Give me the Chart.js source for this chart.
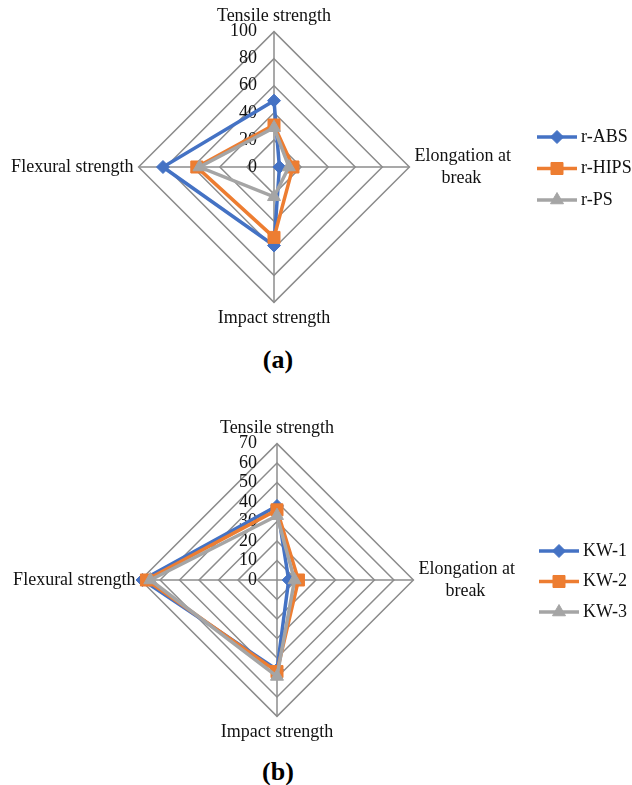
<!DOCTYPE html>
<html>
<head>
<meta charset="utf-8">
<script src="https://cdn.jsdelivr.net/npm/chart.js@4.4.0/dist/chart.umd.min.js"></script>
<style>
  body { margin: 0; background: #fff; width: 632px; height: 785px; position: relative; overflow: hidden; }
  canvas { position: absolute; left: -40px; }
  #chartA { top: 0; }
  #chartB { top: 410px; }
  .tag { position: absolute; left: 0; width: 556px; text-align: center; font: bold 26px "Liberation Serif", serif; line-height: 30px; color: #000; }
</style>
</head>
<body>
<canvas id="chartA" width="700" height="340"></canvas>
<div class="tag" style="top:345px">(a)</div>
<canvas id="chartB" width="700" height="340"></canvas>
<div class="tag" style="top:757px">(b)</div>
<script>
// axes, clockwise from the top ("break" padded so it sits centred under the first line)
const properties = ['Tensile strength', ['Elongation at', '\u00a0\u00a0\u00a0\u00a0\u00a0\u00a0break'], 'Impact strength', 'Flexural strength'];

// (a) recycled plastics
const rABS = [49, 4, 58, 82];
const rHIPS = [31, 14, 52, 57];
const rPS = [29, 11, 22, 55];

// (b) blends
const kw1 = [38, 6, 46, 69];
const kw2 = [36, 11, 47, 67];
const kw3 = [33, 9, 49.5, 65];

const blue = '#4472C4';
const orange = '#ED7D31';
const grey = '#A5A5A5';
const gridColor = '#8c8c8c';
const serif = '"Liberation Serif", "Times New Roman", serif';

Chart.defaults.font.family = serif;

// tick labels left of the vertical axis + line/marker legend on the right
const radarExtras = {
    id: 'radarExtras',
    beforeDatasetsDraw(chart, args, opts) {
        const ctx = chart.ctx;
        const r = chart.scales.r;
        ctx.save();
        ctx.font = '18px ' + serif;
        ctx.fillStyle = '#111';
        ctx.textAlign = 'right';
        ctx.textBaseline = 'middle';
        r.ticks.forEach(t => {
            ctx.fillText(t.label, r.xCenter - opts.tickGap, r.yCenter - r.getDistanceFromCenterForValue(t.value));
        });
        ctx.restore();
    },
    afterDraw(chart, args, opts) {
        const ctx = chart.ctx;
        ctx.save();
        chart.data.datasets.forEach((ds, i) => {
            const y = opts.legendY + i * opts.legendStep;
            ctx.strokeStyle = ds.borderColor;
            ctx.lineWidth = 3.5;
            ctx.beginPath();
            ctx.moveTo(opts.legendX, y);
            ctx.lineTo(opts.legendX + 40, y);
            ctx.stroke();
            ctx.fillStyle = ds.borderColor;
            ctx.lineWidth = 1;
            Chart.helpers.drawPoint(ctx, { pointStyle: ds.pointStyle, radius: ds.pointRadius, rotation: 0, borderWidth: 1 }, opts.legendX + 20, y);
            ctx.fillStyle = '#111';
            ctx.font = '18px ' + serif;
            ctx.textAlign = 'left';
            ctx.textBaseline = 'middle';
            ctx.fillText(ds.label, opts.legendX + 44, y);
        });
        ctx.restore();
    }
};

function series(label, values, color, style, radius, order) {
    return {
        label: label,
        data: values,
        borderColor: color,
        backgroundColor: color,
        borderWidth: 3.5,
        fill: false,
        pointStyle: style,
        pointRadius: radius,
        pointHoverRadius: radius,
        pointBackgroundColor: color,
        pointBorderColor: color,
        pointBorderWidth: 1,
        order: order
    };
}

function makeRadar(id, sets, max, step, padding, extras) {
    return new Chart(document.getElementById(id), {
        type: 'radar',
        data: { labels: properties, datasets: sets },
        options: {
            responsive: false,
            animation: false,
            layout: { padding: padding },
            scales: {
                r: {
                    min: 0,
                    max: max,
                    ticks: { stepSize: step, display: false },
                    grid: { color: gridColor, lineWidth: 1.5 },
                    angleLines: { color: gridColor, lineWidth: 1.5 },
                    pointLabels: { font: { size: 18, family: serif }, color: '#111', padding: 5 }
                }
            },
            plugins: {
                legend: { display: false },
                tooltip: { enabled: false },
                radarExtras: extras
            }
        },
        plugins: [radarExtras]
    });
}

// canvases sit 40px left of the page edge, so page x = canvas x - 40
makeRadar('chartA', [
    series('r-ABS', rABS, blue, 'rectRot', 6.5, 3),
    series('r-HIPS', rHIPS, orange, 'rect', 8.5, 2),
    series('r-PS', rPS, grey, 'triangle', 7.5, 1)
], 100, 20, { top: 6, bottom: 10, left: 0, right: 72 },
   { tickGap: 17, legendX: 577, legendY: 137, legendStep: 31.5 });

makeRadar('chartB', [
    series('KW-1', kw1, blue, 'rectRot', 6.5, 3),
    series('KW-2', kw2, orange, 'rect', 8.5, 2),
    series('KW-3', kw3, grey, 'triangle', 7.5, 1)
], 70, 10, { top: 7, bottom: 6, left: 0, right: 66 },
   { tickGap: 20, legendX: 579, legendY: 141, legendStep: 30.5 });
</script>
</body>
</html>
